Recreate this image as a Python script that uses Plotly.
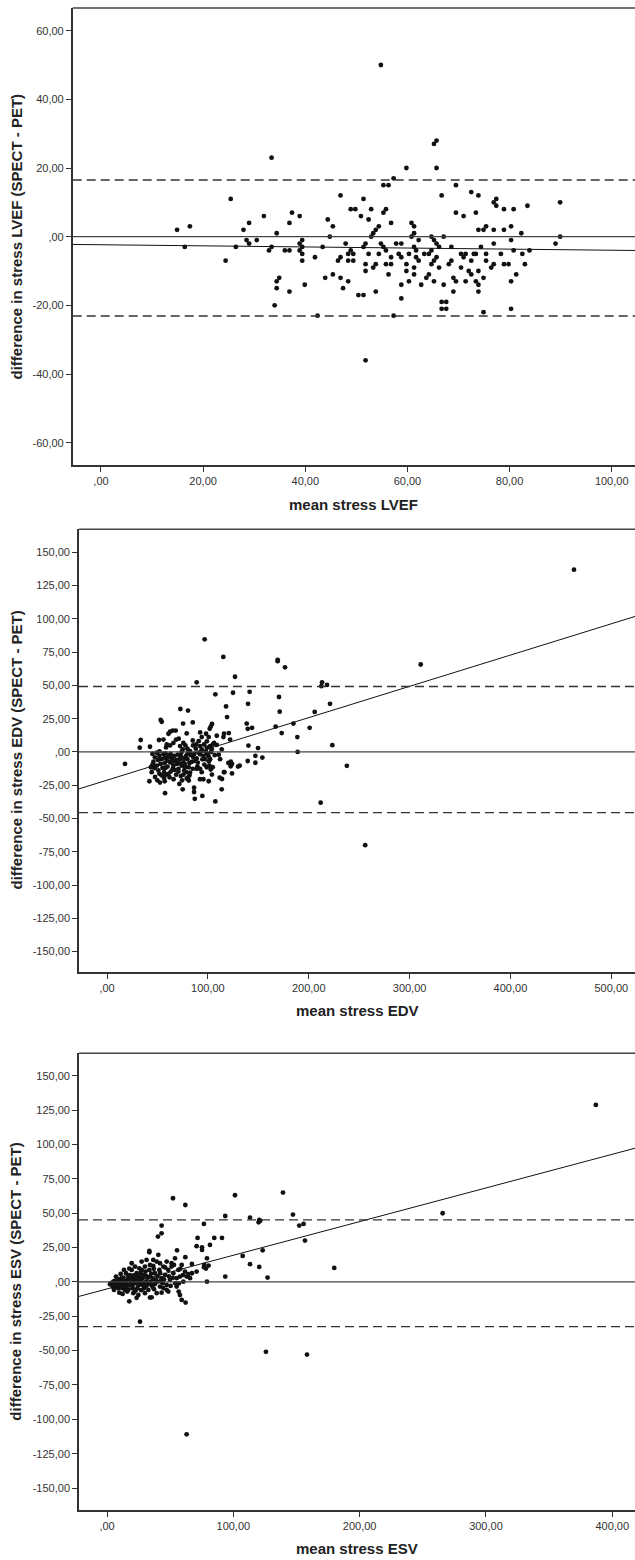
import plotly.graph_objects as go

# ---------------- Panel 1: LVEF ----------------
lvef_mean = [14.9,16.4,17.4,24.4,25.4,26.4,27.9,28.5,29.0,29.0,30.5,31.9,32.9,33.4,33.4,34.0,34.4,34.4,34.4,34.9,
             36.0,36.9,36.9,36.9,37.4,38.9,38.9,39.4,38.9,39.4,39.4,39.4,39.9,41.9,42.4,43.4,43.9,44.4,44.8,45.4,
             45.4,46.4,46.9,46.9,46.9,47.4,47.9,48.4,48.4,48.4,48.9,48.9,49.4,49.4,49.8,50.4,50.9,51.4,51.4,51.4,
             51.8,51.8,51.8,51.8,52.4,52.4,52.9,52.9,53.3,53.3,53.8,53.8,53.8,54.4,54.4,54.8,54.8,55.3,55.3,55.3,
             55.8,55.8,55.8,56.3,56.3,56.8,56.8,56.8,57.3,57.3,57.8,58.3,58.8,58.8,58.8,58.8,59.8,59.8,59.8,60.3,
             60.3,60.8,60.8,61.3,61.3,61.3,61.3,61.3,61.7,61.7,62.2,62.2,62.7,63.3,63.7,64.2,64.2,64.7,64.7,64.7,
             65.2,65.2,65.2,65.2,65.7,65.7,65.7,65.7,66.2,66.2,66.7,66.7,66.7,67.1,67.1,67.6,67.6,68.1,68.6,68.6,
             69.0,69.0,69.5,69.5,69.5,70.5,70.5,71.0,71.0,71.4,71.4,72.0,72.5,72.5,72.5,73.0,73.4,73.4,73.4,73.9,
             73.9,73.9,73.9,73.9,74.4,74.9,74.9,74.9,75.4,75.4,75.4,76.4,76.9,76.9,76.9,76.9,77.4,77.4,78.3,78.9,
             78.9,78.9,79.8,80.3,80.3,80.3,80.3,80.8,80.8,81.3,82.3,82.5,83.0,83.5,83.9,89.0,89.9,89.9]
lvef_diff = [2,-3,3,-7,11,-3,2,-1,4,-2,-1,6,-4,23,-3,-20,1,-13,-15,-12,
             -4,-4,4,-16,7,6,-2,-1,-4,-5,-7,-3,-14,-6,-23,-3,-12,5,0,3,
             -11,-7,-6,12,-12,-15,-2,-7,-13,-5,-4,8,-7,-5,8,-17,6,-17,11,-3,
             -2,-8,-10,-36,5,-5,8,0,1,-9,2,-8,-16,3,-5,50,-2,-3,7,15,
             -4,-8,8,15,-11,4,-6,-8,17,-23,-2,-5,-2,-6,-14,-18,20,-8,-10,-5,
             -13,4,0,3,1,-3,-9,-11,-4,-6,-7,-1,-14,-5,-12,-5,-11,0,-4,-8,
             -1,-7,-13,27,28,20,-2,-6,-9,-3,-19,-21,12,0,-14,-19,-21,-8,-3,-7,
             -12,-16,15,7,-13,-9,-5,6,-6,-5,-13,-10,13,-7,-11,-5,7,-13,-5,12,
             2,-10,-14,-16,-3,2,-12,-22,3,-5,-7,-9,10,2,-2,-8,11,9,-5,8,
             2,-8,-8,3,-1,-13,-21,8,-4,-11,1,-5,-8,9,-4,-2,10,0]
lvef_upper, lvef_lower = 16.5, -23.1
lvef_intercept, lvef_slope = -2.35, -0.016

# ---------------- Panel 2: EDV ----------------
edv_mean = [96.8,115.3,169.2,169.2,176.5,126.9,88.9,213.2,218.1,212.5,107.4,124.9,141.4,170.5,139.8,221.1,118.0,72.7,80.3,171.2,
            205.9,119.0,53.2,54.2,75.4,85.0,104.1,102.8,101.8,138.5,139.5,143.8,184.8,167.2,200.9,173.2,188.7,223.4,189.0,149.7,
            154.0,147.1,147.1,139.5,131.5,129.9,123.9,122.6,123.9,116.3,114.0,111.7,113.7,107.4,211.8,17.8,33.4,32.4,42.6,51.5,
            57.5,42.0,52.5,57.2,44.3,47.6,49.9,71.7,75.0,86.3,86.3,87.0,94.5,100.8,92.2,95.5,81.0,80.3,463.0,311.0,
            256.0,237.8,140.2,
            60.9,62.5,65.1,68.1,71.1,75.7,79.0,85.0,92.3,93.9,98.2,100.8,108.8,115.4,116.0,120.7,122.0,55.9,59.2,58.5,
            62.5,65.8,68.5,72.4,75.1,77.7,79.7,82.3,85.3,88.3,90.9,92.3,93.9,96.2,98.9,102.2,103.8,104.8,49.3,51.9,
            54.2,55.9,57.5,59.2,60.9,62.5,64.2,65.8,67.5,69.1,70.8,72.4,74.1,75.7,77.4,78.4,79.7,81.7,83.0,85.6,
            87.3,88.9,89.6,90.9,92.3,93.9,95.6,97.2,98.2,99.5,100.8,102.2,103.2,46.0,45.3,47.0,49.3,50.9,51.9,54.2,
            56.6,58.5,60.9,63.2,65.1,68.5,70.8,73.1,75.7,78.4,79.7,82.3,85.0,88.9,92.3,93.9,98.9,101.5,102.8,104.8,
            106.1,108.8,110.8,106.8,113.7,112.1,116.0,120.3,122.7,79.0,81.7,74.4,76.4,
            50.5,53.0,55.0,57.0,58.0,60.0,61.5,63.0,64.0,66.5,67.0,69.0,70.0,71.5,73.0,74.0,76.5,77.0,80.0,81.0,
            84.0,86.5,88.0,90.0,94.5,96.5,99.0,101.0,104.0,47.5,52.0,56.5,62.0,66.0,58.0,45.0,43.5]
edv_diff = [84.6,71.4,69.2,68.2,63.6,56.5,52.3,52.3,50.4,49.4,43.3,44.5,45.2,41.3,36.2,36.2,34.2,32.3,31.1,30.3,
            30.1,26.2,24.0,22.7,21.3,22.2,21.0,19.1,17.4,21.3,17.4,18.1,21.3,19.1,18.1,14.2,11.2,5.1,0.0,2.9,
            -4.2,-2.9,-8.1,-6.8,-10.3,-11.0,-9.0,-10.8,-16.1,-15.2,-20.3,-19.3,-28.1,-37.2,-38.1,-9.0,9.0,3.2,3.9,9.0,
            -31.0,-22.0,-23.0,-22.0,-15.2,-18.8,-21.3,-24.0,-28.1,-26.9,-30.1,-35.2,-33.0,-22.0,-20.5,-20.5,-21.5,-19.3,137.0,65.7,
            -70.0,-10.4,4.8,
            13.7,15.2,16.1,16.1,10.0,6.8,13.9,8.6,14.7,11.2,13.7,11.2,12.2,11.2,13.7,14.2,9.3,9.3,5.6,3.4,
            4.9,6.8,9.3,4.4,2.0,4.9,2.4,0.7,4.9,5.6,8.1,4.4,2.0,5.6,3.2,4.4,2.0,5.6,-0.5,-2.9,
            -5.4,-1.7,-4.2,-6.6,-2.9,-7.8,-4.9,-10.3,-6.6,-9.0,-12.7,-5.4,-10.3,-7.8,-11.5,-2.9,-5.4,-8.3,-2.4,-4.2,
            -6.6,-4.9,-10.8,-0.5,-1.7,0.7,-2.9,-5.4,0.0,-1.7,-3.4,-5.4,0.0,-7.3,-9.3,-12.2,-10.3,-13.9,-16.4,-17.6,
            -15.2,-17.1,-16.4,-14.7,-12.7,-17.1,-14.7,-18.1,-17.1,-15.2,-19.6,-15.6,-12.7,-12.7,-12.7,-15.2,-11.5,-10.3,-13.2,-11.5,
            6.8,5.4,-2.0,-2.4,2.0,-5.4,-15.2,-8.3,-7.3,-20.0,-17.6,-21.3,-13.9,
            -6.0,-9.0,-12.0,-8.5,-1.0,-11.0,-4.0,-1.5,-8.0,-3.0,-13.5,-6.0,-2.0,-8.5,-2.5,0.0,-5.0,-9.0,-1.0,-11.5,
            -7.5,-1.5,2.5,-8.0,-5.5,-9.5,8.0,-7.0,-17.0,-4.0,0.5,-19.5,-19.0,-20.5,-12.0,-1.5,-11.5]
edv_upper, edv_lower = 49.2, -45.6
edv_intercept, edv_slope = -21.2, 0.235

# ---------------- Panel 3: ESV ----------------
esv_mean = [387.0,265.7,179.9,125.8,158.3,63.0,26.1,52.2,62.0,101.3,139.3,147.2,93.6,113.2,120.5,120.0,121.3,152.2,155.6,156.7,
            76.7,43.2,43.2,40.3,71.7,75.2,75.2,70.9,81.5,84.9,91.0,79.1,77.0,80.4,78.3,76.7,67.2,79.1,93.6,107.4,
            113.2,120.5,123.2,127.1,33.5,55.4,62.0,55.1,56.7,57.7,59.1,62.2,23.4,17.6,34.0,
            2.3,5.0,6.3,8.1,8.9,10.2,11.6,12.9,14.2,15.5,16.8,18.2,19.5,19.5,20.8,22.1,23.4,24.0,25.5,26.1,
            27.4,28.2,28.7,30.0,31.3,32.7,33.5,34.0,35.3,36.6,37.9,39.3,39.8,41.4,41.9,43.2,44.5,45.9,47.2,48.5,
            49.8,51.1,52.5,53.0,53.8,55.1,56.4,57.7,59.1,60.4,61.7,63.0,64.3,65.7,67.2,70.9,9.7,12.3,16.0,20.8,
            24.8,30.0,35.3,39.3,43.2,47.2,10.8,13.4,17.6,22.1,27.4,31.3,36.6,41.9,47.2,51.1,40.6,34.0,20.3,5.5,
            29.2,37.2,44.0,48.5,25.3,30.8,34.5,38.5,45.1,50.3,56.9,7.1,15.0,18.7,
            3.5,4.5,6.0,7.5,9.0,9.5,11.0,12.0,13.0,14.5,15.0,16.5,17.0,18.0,19.0,20.0,21.0,21.5,22.5,23.0,
            24.5,25.0,26.5,27.0,28.0,29.5,30.5,31.0,32.0,33.0,35.0,36.0,37.0,38.0,40.0,42.0,44.5,46.0,49.0,52.0,
            54.0,58.0,60.0,33.5,20.0,16.0,12.5,26.0,36.5,42.5]
esv_diff = [128.8,50.0,10.2,-50.9,-52.9,-110.9,-28.9,60.9,56.0,63.1,65.0,49.0,48.0,46.8,45.1,43.4,44.6,41.0,42.2,30.1,
            42.2,41.0,35.4,33.0,32.0,25.2,23.3,26.0,26.9,32.0,32.0,17.2,12.4,11.9,9.7,10.7,13.1,0.2,3.9,18.9,
            12.9,10.9,23.0,3.2,21.6,23.0,18.0,-3.4,-7.0,-9.5,-13.1,-15.0,-11.6,-14.1,-11.4,
            -1.7,0.2,-2.9,1.5,-4.6,-1.0,2.7,-2.2,-5.8,1.0,4.4,-2.2,8.7,13.6,2.7,-1.0,6.3,-4.6,9.9,1.5,
            14.8,-2.2,5.1,11.2,0.2,-5.8,8.7,3.9,-2.2,11.6,6.3,14.8,0.2,8.7,-3.4,2.7,11.2,5.1,-2.2,8.7,
            1.5,13.6,6.3,12.4,17.2,2.7,8.7,3.9,12.4,0.2,7.5,3.9,5.6,2.7,6.3,7.5,-7.8,-8.7,-7.0,-8.2,
            -9.5,-8.2,-11.2,-8.2,-7.8,-5.8,5.8,8.7,9.7,11.2,8.7,16.0,16.0,13.6,14.8,11.2,19.7,12.4,-4.6,-5.8,
            -4.6,-5.3,-1.0,-7.0,3.9,4.4,0.2,1.5,1.9,-2.9,-1.0,3.9,6.3,2.7,
            -0.8,-3.5,0.8,-1.2,2.0,-3.8,0.5,-4.5,3.2,-1.5,-3.0,1.8,-5.5,5.0,-0.5,-3.0,4.8,0.8,-6.5,3.5,
            1.0,-2.5,6.5,-6.0,2.5,-0.5,7.5,-3.0,3.0,-1.5,6.0,-3.5,9.5,-1.5,4.0,6.5,-4.5,10.5,4.0,3.0,
            -1.0,9.5,5.0,22.5,0.5,-2.0,1.0,-1.0,2.0,0.5]
esv_upper, esv_lower = 45.1, -32.5
esv_intercept, esv_slope = -5.1, 0.245

# ---------------- axis ticks ----------------
lvef_x_ticks = [0, 20, 40, 60, 80, 100]
lvef_x_text = [",00", "20,00", "40,00", "60,00", "80,00", "100,00"]
lvef_y_ticks = [-60, -40, -20, 0, 20, 40, 60]
lvef_y_text = ["-60,00", "-40,00", "-20,00", ",00", "20,00", "40,00", "60,00"]
vol_y_ticks = [-150, -125, -100, -75, -50, -25, 0, 25, 50, 75, 100, 125, 150]
vol_y_text = ["-150,00", "-125,00", "-100,00", "-75,00", "-50,00", "-25,00", ",00",
              "25,00", "50,00", "75,00", "100,00", "125,00", "150,00"]
edv_x_ticks = [0, 100, 200, 300, 400, 500]
edv_x_text = [",00", "100,00", "200,00", "300,00", "400,00", "500,00"]
esv_x_ticks = [0, 100, 200, 300, 400]
esv_x_text = [",00", "100,00", "200,00", "300,00", "400,00"]

W, H = 635, 1560
FONT = "Liberation Sans, Arial, sans-serif"

panels = [
    dict(x=lvef_mean, y=lvef_diff, up=lvef_upper, lo=lvef_lower, a=lvef_intercept, b=lvef_slope,
         xr=[-5.54, 104.56], yr=[-66.5, 66.6], xt=lvef_x_ticks, xtt=lvef_x_text, yt=lvef_y_ticks, ytt=lvef_y_text,
         left=72.7, top=8, bottom=465, xtitle="mean stress LVEF", xtitle_y=505,
         ytitle="difference in stress LVEF (SPECT - PET)"),
    dict(x=edv_mean, y=edv_diff, up=edv_upper, lo=edv_lower, a=edv_intercept, b=edv_slope,
         xr=[-27.8, 523.5], yr=[-165.1, 167.3], xt=edv_x_ticks, xtt=edv_x_text, yt=vol_y_ticks, ytt=vol_y_text,
         left=79, top=529.3, bottom=971.7, xtitle="mean stress EDV", xtitle_y=1010,
         ytitle="difference in stress EDV (SPECT - PET)"),
    dict(x=esv_mean, y=esv_diff, up=esv_upper, lo=esv_lower, a=esv_intercept, b=esv_slope,
         xr=[-22.2, 418.0], yr=[-166.0, 166.4], xt=esv_x_ticks, xtt=esv_x_text, yt=vol_y_ticks, ytt=vol_y_text,
         left=79, top=1053.3, bottom=1510, xtitle="mean stress ESV", xtitle_y=1548,
         ytitle="difference in stress ESV (SPECT - PET)"),
]

fig = go.Figure()
layout = dict(width=W, height=H, margin=dict(l=0, r=0, t=0, b=0),
              paper_bgcolor="white", plot_bgcolor="white", showlegend=False,
              font=dict(family=FONT, color="#333"))
shapes, annotations = [], []

for i, p in enumerate(panels, start=1):
    sfx = "" if i == 1 else str(i)
    xa, ya = "x" + sfx, "y" + sfx
    xdom = [p["left"] / W, 1.0]
    ydom = [1 - p["bottom"] / H, 1 - p["top"] / H]
    layout["xaxis" + sfx] = dict(domain=xdom, range=p["xr"], anchor=ya, showgrid=False, zeroline=False,
                                 showline=True, linecolor="#333", linewidth=1.6, ticks="outside", ticklen=5,
                                 tickwidth=1.2, tickcolor="#333", tickvals=p["xt"], ticktext=p["xtt"],
                                 tickfont=dict(size=11, color="#333", family=FONT), fixedrange=True)
    layout["yaxis" + sfx] = dict(domain=ydom, range=p["yr"], anchor=xa, showgrid=False, zeroline=False,
                                 showline=True, linecolor="#333", linewidth=1.6, ticks="outside", ticklen=5,
                                 tickwidth=1.2, tickcolor="#333", tickvals=p["yt"], ticktext=p["ytt"],
                                 tickfont=dict(size=11, color="#333", family=FONT), fixedrange=True)
    shapes.append(dict(type="line", xref=xa + " domain", yref=ya + " domain", x0=0, x1=1, y0=1, y1=1,
                       line=dict(color="#444", width=1.6)))
    shapes.append(dict(type="line", xref=xa + " domain", yref=ya, x0=0, x1=1, y0=0, y1=0,
                       line=dict(color="#444", width=1.2)))
    for v in (p["up"], p["lo"]):
        shapes.append(dict(type="line", xref=xa + " domain", yref=ya, x0=0, x1=1, y0=v, y1=v,
                           line=dict(color="#333", width=1.3, dash="9px,5px")))
    rx = p["xr"]
    fig.add_trace(go.Scatter(x=rx, y=[p["a"] + p["b"] * v for v in rx], mode="lines", xaxis=xa, yaxis=ya,
                             line=dict(color="#111", width=1), hoverinfo="skip"))
    fig.add_trace(go.Scatter(x=p["x"], y=p["y"], mode="markers", xaxis=xa, yaxis=ya,
                             marker=dict(size=4.8, color="#111", line=dict(width=0))))
    annotations.append(dict(text="<b>%s</b>" % p["xtitle"], xref="paper", yref="paper",
                            x=(xdom[0] + xdom[1]) / 2, y=1 - p["xtitle_y"] / H, xanchor="center", yanchor="middle",
                            showarrow=False, font=dict(size=15, color="#222", family=FONT)))
    annotations.append(dict(text="<b>%s</b>" % p["ytitle"], xref="paper", yref="paper", textangle=-90,
                            x=16 / W, y=(ydom[0] + ydom[1]) / 2, xanchor="center", yanchor="middle",
                            showarrow=False, font=dict(size=15, color="#222", family=FONT)))

layout["shapes"] = shapes
layout["annotations"] = annotations
fig.update_layout(**layout)
fig.write_html("out.html", config={"displayModeBar": False},
               post_script="document.body.style.margin='0px';document.body.style.overflow='hidden';")
